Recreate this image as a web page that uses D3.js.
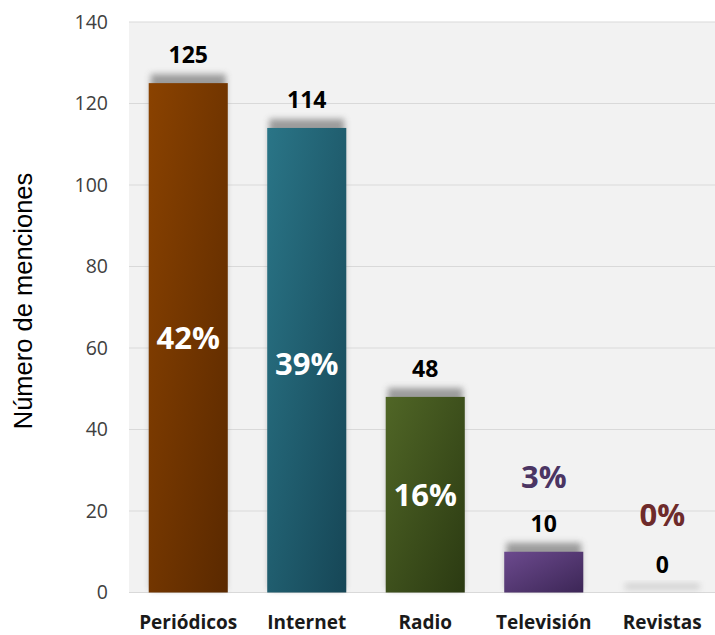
<!DOCTYPE html>
<html><head><meta charset="utf-8">
<script src="https://cdn.jsdelivr.net/npm/d3@7"></script>
<style>body{margin:0;background:#fff}</style>
</head><body>
<svg id="c" width="715" height="635"></svg>
<script>
const categories = ["Periódicos","Internet","Radio","Televisión","Revistas"];
const values = [125,114,48,10,0];
const percents = ["42%","39%","16%","3%","0%"];
const yTicks = [0,20,40,60,80,100,120,140];
const colorsLight = ["#8a4200","#2a7587","#506626","#6c4a8e","#7a3030"];
const colorsDark = ["#5a2900","#164656","#2b3a12","#3c2656","#5a2020"];
const pctColors = ["#ffffff","#ffffff","#ffffff","#4b3563","#6e2b2b"];

const svg = d3.select("#c");
const W = 715, H = 635;
const x = d3.scaleBand().domain(categories).range([129, 721.5]).paddingInner(0.333).paddingOuter(0.1665);
const y = d3.scaleLinear().domain([0,140]).range([592.5, 22]);

const defs = svg.append("defs");
categories.forEach((c,i)=>{
  const g = defs.append("linearGradient").attr("id","g"+i).attr("x1","0").attr("y1","0").attr("x2","1").attr("y2","1");
  g.append("stop").attr("offset","0").attr("stop-color",colorsLight[i]);
  g.append("stop").attr("offset","1").attr("stop-color",colorsDark[i]);
});
defs.append("filter").attr("id","blur").attr("x","-20%").attr("y","-50%").attr("width","140%").attr("height","200%")
  .append("feGaussianBlur").attr("stdDeviation",3);
defs.append("clipPath").attr("id","clip").append("rect").attr("x",129).attr("y",0).attr("width",W-129).attr("height",H);

// plot background
svg.append("rect").attr("x",129).attr("y",22).attr("width",W-129).attr("height",y(0)-22).attr("fill","#f2f2f2");

// gridlines
svg.append("g").selectAll("line").data(yTicks).join("line")
  .attr("x1",129).attr("x2",W).attr("y1",d=>y(d)).attr("y2",d=>y(d))
  .attr("stroke","#d9d9d9").attr("stroke-width",1.2);

// y axis labels
const yAxis = d3.axisLeft(y).tickValues(yTicks).tickSize(0).tickPadding(0);
const ya = svg.append("g").attr("transform","translate(108,0)").call(yAxis);
ya.select(".domain").remove();
ya.selectAll("text").attr("font-family","Open Sans, sans-serif").attr("font-size",19.5).attr("fill","#404040");

// axis title
svg.append("text").attr("transform","translate(32,301) rotate(-90)").attr("text-anchor","middle")
  .attr("font-family","Liberation Sans, Arial, sans-serif").attr("font-size",25.5).attr("fill","#000")
  .text("Número de menciones");

const gb = svg.append("g").attr("clip-path","url(#clip)");
// shadows
gb.selectAll("rect.sh").data(values).join("rect").attr("class","sh")
  .attr("x",(d,i)=>x(categories[i])+2).attr("width",x.bandwidth()-4)
  .attr("y",d=>y(d)-9).attr("height",d=>Math.max(y(0)-y(d),0)+6)
  .attr("fill","#8c8c8c").attr("filter","url(#blur)").attr("opacity",(d)=>d===0?0.35:0.85);
// bars
gb.selectAll("rect.bar").data(values).join("rect").attr("class","bar")
  .attr("x",(d,i)=>x(categories[i])).attr("width",x.bandwidth())
  .attr("y",d=>y(d)).attr("height",d=>y(0)-y(d))
  .attr("fill",(d,i)=>"url(#g"+i+")");

// value labels
svg.append("g").selectAll("text").data(values).join("text")
  .attr("x",(d,i)=>x(categories[i])+x.bandwidth()/2).attr("y",d=>y(d)-20)
  .attr("text-anchor","middle").attr("font-family","Open Sans, sans-serif").attr("font-weight","bold")
  .attr("font-size",23).attr("fill","#000").text(d=>d);

// percent labels
const pctY = [null,null,null,488,526];
svg.append("g").selectAll("text").data(percents).join("text")
  .attr("x",(d,i)=>x(categories[i])+x.bandwidth()/2)
  .attr("y",(d,i)=> pctY[i]!==null ? pctY[i] : (y(values[i])+y(0))/2 + 11 + (i===1?4:0))
  .attr("text-anchor","middle").attr("font-family","Open Sans, sans-serif").attr("font-weight","bold")
  .attr("font-size",31).attr("fill",(d,i)=>pctColors[i]).text(d=>d);

// x labels
svg.append("g").selectAll("text").data(categories).join("text")
  .attr("x",d=>x(d)+x.bandwidth()/2).attr("y",629)
  .attr("text-anchor","middle").attr("font-family","Open Sans, sans-serif").attr("font-weight","bold")
  .attr("font-size",19).attr("fill","#1a1a1a").text(d=>d);
</script>
</body></html>
